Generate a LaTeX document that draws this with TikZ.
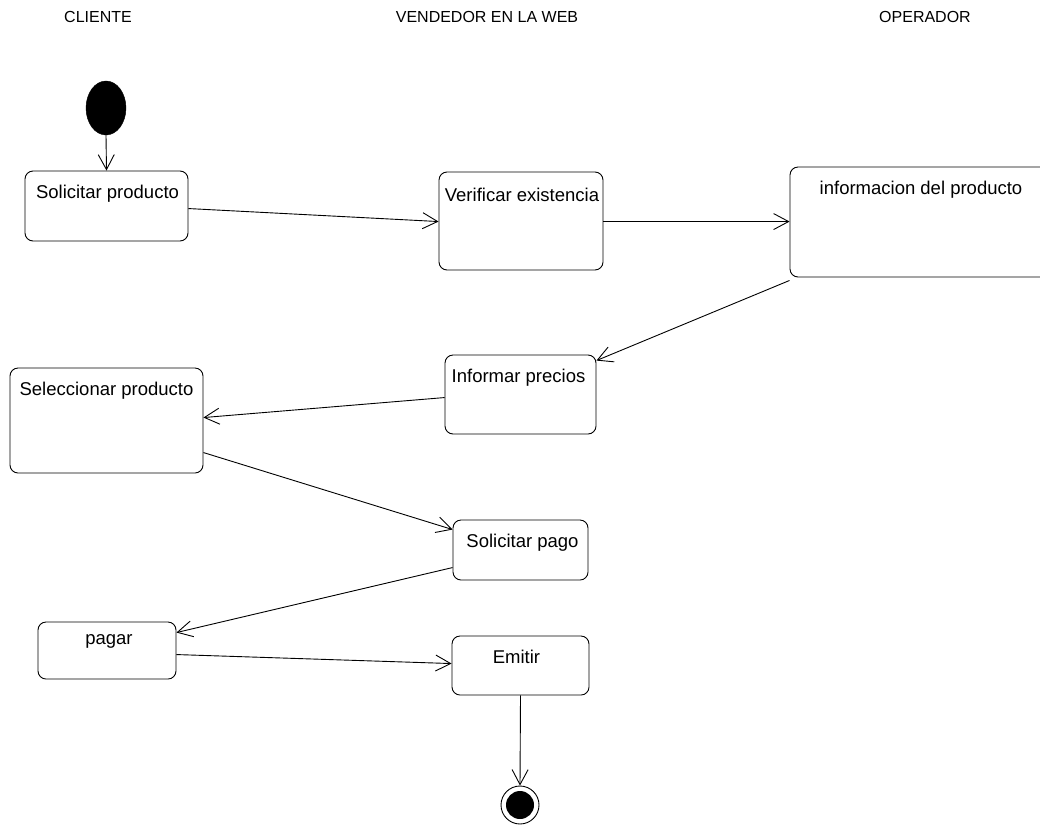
\documentclass[tikz,border=0pt]{standalone}
\usepackage{fontspec}
\setmainfont{Liberation Sans}
\usetikzlibrary{arrows.meta,calc,shapes.geometric}
\begin{document}
\begin{tikzpicture}[x=1pt,y=-1pt,
  actbox/.style={draw=black, line width=0.9pt, rounded corners=8pt, inner sep=0pt},
  boxtext/.style={font=\fontsize{18.5}{22}\selectfont, inner sep=0pt, anchor=center},
  header/.style={font=\fontsize{16}{19}\selectfont, inner sep=0pt, anchor=center},
  flow/.style={draw=black, line width=0.9pt, -{Straight Barb[length=15pt,width=16pt,line width=0.9pt]}}]
\useasboundingbox (0,0) rectangle (1040,825);
\clip (0,0) rectangle (1040,825);
% headers
\node[header] (hc) at (98,17) {CLIENTE};
\node[header] (hv) at (487,17) {VENDEDOR EN LA WEB};
\node[header] (ho) at (925,17) {OPERADOR};
% start / end
\node[draw=black, fill=black, ellipse, minimum width=40pt, minimum height=54pt, inner sep=0pt] (start) at (106,108) {};
\node[draw=black, line width=0.9pt, circle, minimum size=38pt, inner sep=0pt] (fin) at (520,805) {};
\node[fill=black, circle, minimum size=28pt, inner sep=0pt] (finin) at (fin.center) {};
% boxes
\node[actbox, minimum width=163pt, minimum height=70pt] (sp) at (106.5,206) {};
\node[boxtext] (spt) at ($(sp.north)+(1,23)$) {Solicitar producto};
\node[actbox, minimum width=164pt, minimum height=98pt] (ve) at (521,221) {};
\node[boxtext] (vet) at ($(ve.north)+(1,23)$) {Verificar existencia};
\node[actbox, minimum width=270pt, minimum height=110pt] (ip) at (925,222) {};
\node[boxtext] (ipt) at (921,190) {informacion del producto};
\node[actbox, minimum width=151pt, minimum height=79pt] (pr) at (520.5,394.5) {};
\node[boxtext] (prt) at ($(pr.north)+(-2,23)$) {Informar precios};
\node[actbox, minimum width=193pt, minimum height=105pt] (sel) at (106.5,420.5) {};
\node[boxtext] (selt) at ($(sel.north)+(0,23)$) {Seleccionar producto};
\node[actbox, minimum width=135pt, minimum height=60pt] (spg) at (520.5,550) {};
\node[boxtext] (spgt) at ($(spg.north)+(2,23)$) {Solicitar pago};
\node[actbox, minimum width=138pt, minimum height=57pt] (pg) at (107,650.5) {};
\node[boxtext] (pgt) at ($(pg.north)+(2,20)$) {pagar};
\node[actbox, minimum width=137pt, minimum height=59pt] (em) at (520.5,665.5) {};
\node[boxtext] (emt) at ($(em.north)+(-4,21)$) {Emitir};
% connectors
\draw[flow] (start.south) -- (sp.north);
\draw[flow] ($(sp.north east)+(0,38)$) -- ($(ve.north west)+(0,50)$);
\draw[flow] ($(ve.north east)+(0,50)$) -- ($(ip.north west)+(0,55)$);
\draw[flow] ($(ip.south west)+(0,3)$) -- ($(pr.north east)+(0,6)$);
\draw[flow] ($(pr.north west)+(0,43)$) -- ($(sel.north east)+(0,50)$);
\draw[flow] ($(sel.north east)+(0,85)$) -- ($(spg.north west)+(0,10)$);
\draw[flow] ($(spg.north west)+(0,48)$) -- ($(pg.north east)+(0,11)$);
\draw[flow] ($(pg.north east)+(0,33)$) -- ($(em.north west)+(0,28)$);
\draw[flow] (em.south) -- (fin.north);
\end{tikzpicture}
\end{document}
